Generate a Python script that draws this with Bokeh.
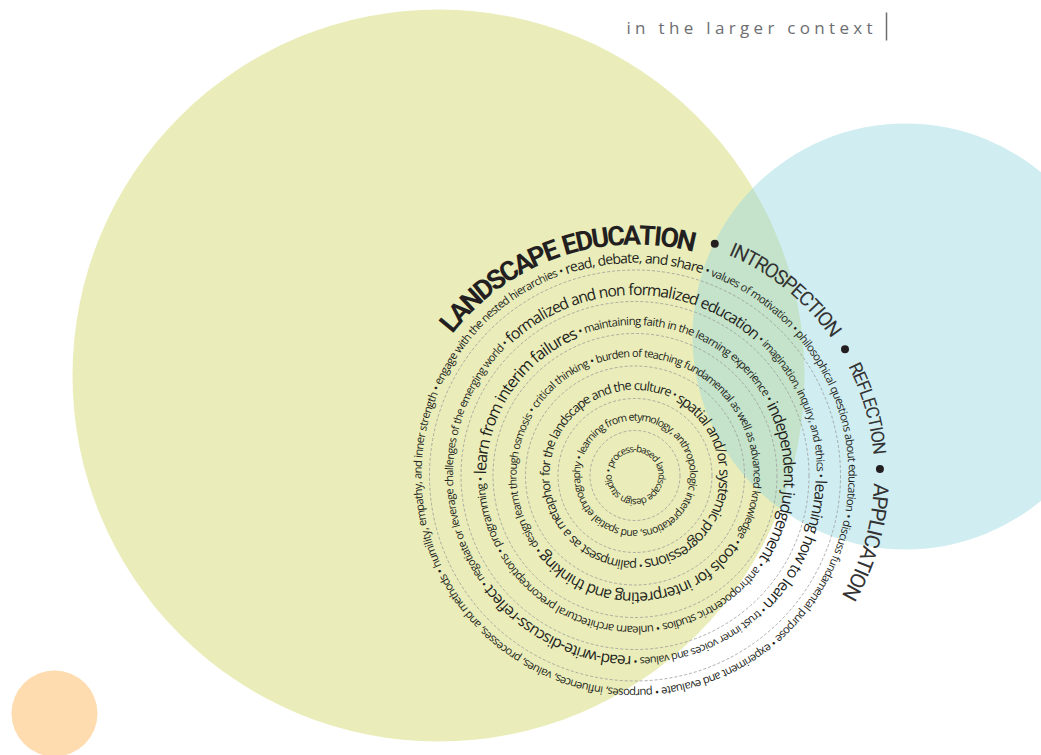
import math
from bokeh.plotting import figure
from bokeh.models import Range1d
from bokeh.embed import file_html
from bokeh.resources import INLINE
from bokeh.core.properties import value

# ---------------- data ----------------
title_text = "in the larger context"

ring1_phrases = ["process-based landscape design studio"]
ring1_kinds = ["s"]
ring2_phrases = ["learning from etymology, anthropologic interpretations, and spatial ethnography"]
ring2_kinds = ["s"]
ring3_phrases = ["palimpsest as a metaphor for the landscape and the culture",
                 "spatial and/or systemic progressions"]
ring3_kinds = ["m", "l"]
ring4_phrases = ["tools for interpreting and thinking", "design learnt through osmosis",
                 "critical thinking",
                 "burden of teaching fundamental as well as advanced knowledge"]
ring4_kinds = ["l", "s", "s", "s"]
ring5_phrases = ["independent judgement", "anthropocentric studios",
                 "unlearn architectural preconceptions", "programming",
                 "learn from interim failures",
                 "maintaining faith in the learning experience"]
ring5_kinds = ["l", "s", "s", "s", "l", "s"]
ring6_phrases = ["learning how to learn", "trust inner voices and values",
                 "read-write-discuss-reflect",
                 "negotiate or leverage challenges of the emerging world",
                 "formalized and non formalized education",
                 "imagination, inquiry, and ethics"]
ring6_kinds = ["l", "s", "l", "s", "l", "s"]
ring7_phrases = ["discuss fundamental purpose", "experiment and evaluate",
                 "purposes, influences, values, processes, and methods",
                 "humility, empathy, and inner strength",
                 "engage with the nested hierarchies", "read, debate, and share",
                 "values of motivation", "philosophical questions about education"]
ring7_kinds = ["s", "s", "s", "s", "s", "m", "s", "s"]
outer_phrases = ["LANDSCAPE EDUCATION", "INTROSPECTION", "REFLECTION", "APPLICATION"]
outer_bold = [True, False, False, False]

# ---------------- layout ----------------
W, H = 1041, 755
TXT = "#231f20"
CX, CY = 634.5, -475.0          # ring centre (page px, y flipped)
ring_center_r = [30, 62, 93.5, 126, 158, 189.5, 221]
ring_start_deg = [161, 158, 271, -35, 28, -1.5, -12]
dash_r = [45, 77, 109.5, 142, 174, 205.5]
outer_arcs = [(142, 75.5), (67, 35), (27, 5), (-2, -30)]
outer_base_r = [240, 246, 246, 246]
outer_bullets = [71, 31, 1.5]

# Open Sans advance widths (per 1000 em)
OS = {' ': 260, 'a': 556, 'b': 613, 'c': 476, 'd': 613, 'e': 561, 'f': 339, 'g': 548,
      'h': 614, 'i': 253, 'j': 253, 'k': 525, 'l': 253, 'm': 930, 'n': 614, 'o': 604,
      'p': 613, 'q': 613, 'r': 408, 's': 477, 't': 353, 'u': 614, 'v': 501, 'w': 778,
      'x': 524, 'y': 502, 'z': 477, ',': 245, '.': 266, '-': 322, '/': 367, '•': 376}
# Roboto caps advance widths (per 1000 em)
CAPS = {'A': 652, 'C': 652, 'D': 657, 'E': 568, 'F': 553, 'I': 272, 'L': 538, 'N': 713,
        'O': 688, 'P': 631, 'R': 616, 'S': 593, 'T': 597, 'U': 648, ' ': 248}

SIZES = {"s": 10.5, "m": 13.0, "l": 15.0}
GLYPH_SCALE = 1.1   # glyphs a touch larger than their advance (tighter set)

p = figure(width=W, height=H, output_backend="svg", toolbar_location=None,
           x_range=Range1d(0, W), y_range=Range1d(-H, 0),
           min_border=0)
p.axis.visible = False
p.grid.visible = False
p.outline_line_color = None
p.background_fill_color = "white"

# background circles
p.circle(x=[438], y=[-375], radius=366, fill_color="#eaedb9", line_color=None)
p.circle(x=[905], y=[-336], radius=213, fill_color="#96d7e1", fill_alpha=0.45,
         line_color=None)
p.circle(x=[54], y=[-713], radius=43, fill_color="#fedcb0", line_color=None)

# dashed separators
p.circle(x=[CX] * len(dash_r), y=[CY] * len(dash_r), radius=dash_r,
         fill_color=None, line_color="#9a9a9a", line_width=0.8, line_dash="3 2")


def ring_glyphs(phrases, kinds, rc, start_deg):
    seq = []
    for ph, k in zip(phrases, kinds):
        for ch in ph:
            seq.append((ch, SIZES[k]))
        for ch in " • ":
            seq.append((ch, SIZES["s"]))
    rb = rc - 3.0
    total = sum(OS.get(c, 550) / 1000 * s for c, s in seq)
    k = 2 * math.pi * rb / total
    pos = 0.0
    out = dict(x=[], y=[], t=[], a=[], fs=[])
    for c, s in seq:
        w = OS.get(c, 550) / 1000 * s * k
        phi = math.radians(start_deg) - (pos + w / 2) / rb
        pos += w
        if c == " ":
            continue
        out["x"].append(CX + rb * math.cos(phi))
        out["y"].append(CY + rb * math.sin(phi))
        out["t"].append(c)
        out["a"].append(phi - math.pi / 2)
        out["fs"].append("%.2fpx" % (s * k * GLYPH_SCALE))
    return out


rings = [(ring1_phrases, ring1_kinds), (ring2_phrases, ring2_kinds),
         (ring3_phrases, ring3_kinds), (ring4_phrases, ring4_kinds),
         (ring5_phrases, ring5_kinds), (ring6_phrases, ring6_kinds),
         (ring7_phrases, ring7_kinds)]
allg = dict(x=[], y=[], t=[], a=[], fs=[])
for (ph, kd), rc, sd in zip(rings, ring_center_r, ring_start_deg):
    g = ring_glyphs(ph, kd, rc, sd)
    for key in allg:
        allg[key].extend(g[key])

p.text(x="x", y="y", text="t", angle="a", source=allg,
       text_font=value("Open Sans"), text_font_size="fs", text_color=TXT,
       text_align="center", text_baseline="alphabetic")

# outer title arc
for ph, bold, (a0, a1), rb in zip(outer_phrases, outer_bold, outer_arcs, outer_base_r):
    widths = [CAPS.get(c, 640) / 1000 for c in ph]
    arc = math.radians(a0 - a1) * rb
    fsz = arc / sum(widths)
    pos = 0.0
    g = dict(x=[], y=[], t=[], a=[])
    for c, w in zip(ph, widths):
        wpx = w * fsz
        phi = math.radians(a0) - (pos + wpx / 2) / rb
        pos += wpx
        if c == " ":
            continue
        g["x"].append(CX + rb * math.cos(phi))
        g["y"].append(CY + rb * math.sin(phi))
        g["t"].append(c)
        g["a"].append(phi - math.pi / 2)
    p.text(x="x", y="y", text="t", angle="a", source=g,
           text_font=value("Roboto"), text_font_size="%.1fpx" % (fsz * 1.1),
           text_font_style="bold" if bold else "normal",
           text_color=TXT if bold else "#333333",
           text_align="center", text_baseline="alphabetic")

bx = [CX + 245 * math.cos(math.radians(d)) for d in outer_bullets]
by = [CY + 245 * math.sin(math.radians(d)) for d in outer_bullets]
p.scatter(x=bx, y=by, size=8, marker="circle", fill_color=TXT, line_color=None)

# header
tx0, tx1, tsize = 626, 872, 17
tw = [OS.get(c, 550) / 1000 * tsize for c in title_text]
track = ((tx1 - tx0) - sum(tw)) / (len(title_text) - 1)
xs, ts = [], []
pos = tx0
for c, w in zip(title_text, tw):
    if c != " ":
        xs.append(pos)
        ts.append(c)
    pos += w + track
p.text(x=xs, y=[-27] * len(xs), text=ts, text_font=value("Open Sans"),
       text_font_size="%dpx" % tsize, text_color="#6d6e71",
       text_align="left", text_baseline="middle")
p.segment(x0=[886], y0=[-12], x1=[886], y1=[-40], line_color="#6d6e71", line_width=1.5)

open("out.html", "w").write(file_html(p, INLINE))
